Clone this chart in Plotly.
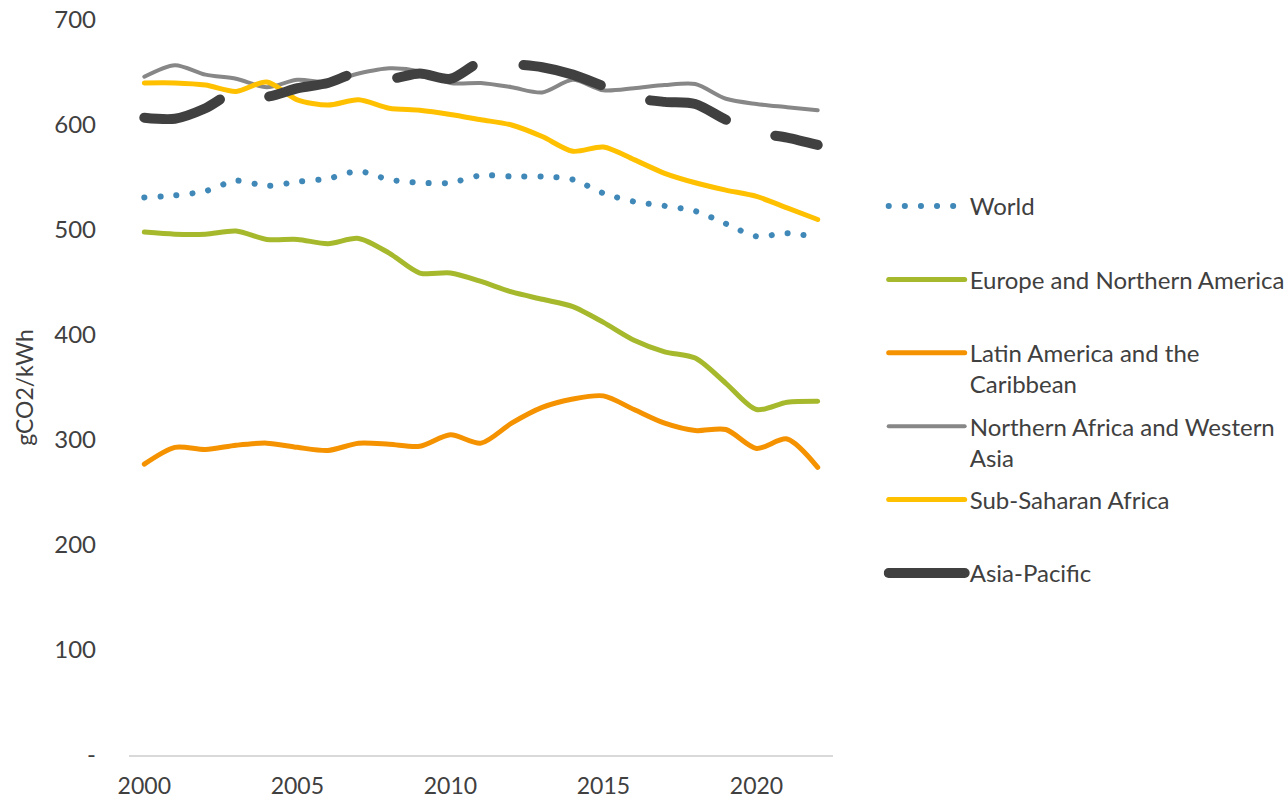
import plotly.graph_objects as go

years = list(range(2000, 2023))

world = [531, 533, 537, 547, 542, 546, 549, 556, 548, 545, 545, 552, 551, 551, 548, 535, 527, 523, 518, 506, 494, 497, 493]
europe_na = [498, 496, 496, 499, 491, 491, 487, 492, 478, 459, 459, 451, 441, 434, 427, 412, 395, 384, 378, 354, 329, 336, 337]
latin_am = [277, 293, 291, 295, 297, 293, 290, 297, 296, 294, 305, 297, 316, 331, 339, 342, 329, 316, 309, 310, 292, 301, 274]
n_africa_wasia = [646, 657, 648, 644, 636, 643, 641, 649, 654, 651, 640, 640, 636, 631, 643, 633, 635, 638, 639, 625, 620, 617, 614]
ssa = [640, 640, 638, 632, 641, 624, 619, 624, 616, 614, 610, 605, 600, 589, 575, 579, 567, 554, 545, 538, 532, 521, 510]
asia_pacific = [607, 606, 616, 632, 627, 635, 640, 650, 644, 649, 644, 660, 658, 655, 648, 637, 626, 622, 620, 605, 593, 588, 581]

names = ["World", "Europe and Northern America", "Latin America and the<br>Caribbean",
         "Northern Africa and Western<br>Asia", "Sub-Saharan Africa", "Asia-Pacific"]

y_tickvals = [0, 100, 200, 300, 400, 500, 600, 700]
y_ticktext = ["-", "100", "200", "300", "400", "500", "600", "700"]
x_tickvals = [2000, 2005, 2010, 2015, 2020]

series = [
    (world, "#3f88b7", 6, "0.1px,16px"),
    (europe_na, "#a6b92c", 5, "solid"),
    (latin_am, "#f59200", 5, "solid"),
    (n_africa_wasia, "#878787", 4, "solid"),
    (ssa, "#ffc000", 5, "solid"),
    (asia_pacific, "#404040", 10, "80px,52px"),
]

fig = go.Figure()
for i, ((vals, color, w, dash), name) in enumerate(zip(series, names)):
    label = name if "<br>" in name else name + "<br>\u00a0"
    fig.add_trace(go.Scatter(
        x=years, y=vals, mode="lines", name=label, legendgroup=str(i),
        line=dict(color=color, width=w, dash=dash, shape="spline", smoothing=0.8),
    ))

TXT = "#404040"
fig.update_layout(
    width=1288, height=801,
    margin=dict(l=129, r=455, t=20, b=46, autoexpand=False),
    paper_bgcolor="white", plot_bgcolor="white",
    font=dict(family="Lato, sans-serif", size=24, color=TXT),
    showlegend=True,
    legend=dict(
        x=1.072, xanchor="left", y=0.777, yanchor="top",
        font=dict(size=24, color=TXT),
        tracegroupgap=8, valign="top", itemwidth=76,
        bgcolor="rgba(0,0,0,0)",
    ),
    xaxis=dict(
        range=[1999.5, 2022.5], tickvals=x_tickvals, showgrid=False, zeroline=False,
        showline=True, linecolor="#d9d9d9", linewidth=2, ticks="", automargin=False,
        ticklabelstandoff=9, tickfont=dict(size=23, color=TXT),
    ),
    yaxis=dict(
        range=[0, 700], tickvals=y_tickvals, ticktext=y_ticktext, showgrid=False,
        zeroline=False, showline=False, ticks="", ticklabelstandoff=32, automargin=False,
        tickfont=dict(size=24, color=TXT),
        title=dict(text="gCO2/kWh", font=dict(size=23, color=TXT), standoff=14),
    ),
)

post = ("var s=document.createElement('style');"
        "s.textContent='body{margin:0;} .scatterlayer path.js-line, .legend path.js-line{stroke-linecap:round;}';"
        "document.head.appendChild(s);")
fig.write_html("out.html", post_script=post, config={"displayModeBar": False})
